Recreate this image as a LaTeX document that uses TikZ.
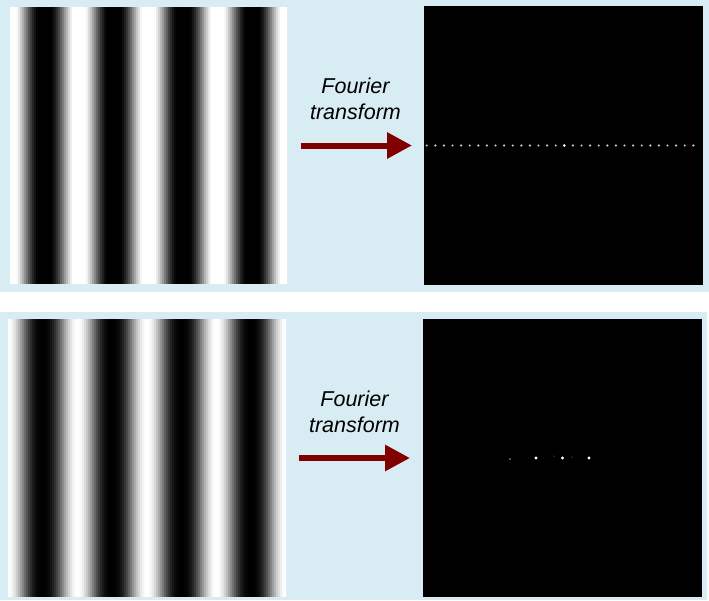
\documentclass[tikz,border=0pt]{standalone}
\usepackage{fontspec}
\setmainfont{Liberation Sans}
\usetikzlibrary{positioning,arrows.meta}
\definecolor{panelC}{RGB}{216,236,243}
\definecolor{arrowC}{RGB}{128,0,0}
\definecolor{dotC}{RGB}{205,205,205}
\tikzset{
	stripebox/.style={minimum width=277pt, minimum height=277pt, inner sep=0pt,
		outer sep=0pt},
	spectrum/.style={minimum width=279pt, minimum height=279pt, inner sep=0pt,
		outer sep=0pt, fill=black},
	flow/.style={-{Triangle[length=25pt,width=25pt]}, line width=6pt, arrowC},
	ftlabel/.style={align=center, inner sep=0pt,
		font=\fontsize{21.5}{26}\selectfont\itshape},
	peak/.style={fill=white},
}

\begin{document}
\begin{tikzpicture}[x=1pt, y=-1pt]
	\useasboundingbox (0,0) rectangle (709,600);
	
	% ================= Panels =================
	\fill[panelC] (0,0) rectangle (709,292);
	\fill[panelC] (0,312) rectangle (707,600);
	
	% ================= Top row: clipped stripes =================
	\node[stripebox] (imgA) at (148.5,145.5) {};
	\begin{scope}
		\clip (imgA.south west) rectangle (imgA.north east);
		\begin{scope}[shift={(imgA.north west)}]
			\foreach \i in {0,...,138}{
				\pgfmathsetmacro\shade{100-100*min(1,max(0,0.5+0.6*cos(5.1986*(2*\i+1))))^1.2}
				\fill[black!\shade] (2*\i,0) rectangle ++(2.3,277);
			}
		\end{scope}
	\end{scope}
	
	\node[spectrum] (ftA) at (563.5,145.5) {};
	\begin{scope}[shift={(ftA.center)}]
		\foreach \k in {-16,...,15}
		\fill[dotC] (0.8+8.6*\k,0) circle[radius=1.2];
		\fill[peak] (0.8,0) circle[radius=1.4];
	\end{scope}
	
	\draw[flow, shorten <=14pt, shorten >=12pt] (imgA.east) --
	coordinate[pos=0.5] (midA) (ftA.west);
	\node[ftlabel, above=26pt of midA] {Fourier\\transform};
	
	% ================= Bottom row: pure sine stripes =================
	\node[stripebox, minimum width=278pt, minimum height=278pt] (imgB) at (147,458) {};
	\begin{scope}
		\clip (imgB.south west) rectangle (imgB.north east);
		\begin{scope}[shift={(imgB.north west)}]
			\foreach \i in {0,...,139}{
				\pgfmathsetmacro\shade{100-100*((1+cos(5.1799*(2*\i+1)))/2)^1.3}
				\fill[black!\shade] (2*\i,0) rectangle ++(2.3,278);
			}
		\end{scope}
	\end{scope}
	
	\node[spectrum, minimum height=278pt] (ftB) at (562.5,458) {};
	\begin{scope}[shift={(ftB.center)}]
		\foreach \k in {-26.5,0,26.5}
		\fill[peak] (\k,0) circle[radius=1.6];
		\fill[gray!70] (-52.5,1) circle[radius=0.8];
		\fill[gray!60] (-8.5,-2) circle[radius=0.5];
		\fill[gray!60] (9.5,-1) circle[radius=0.5];
	\end{scope}
	
	\draw[flow, shorten <=13pt, shorten >=13pt] (imgB.east) --
	coordinate[pos=0.5] (midB) (ftB.west);
	\node[ftlabel, above=25pt of midB] {Fourier\\transform};
	
\end{tikzpicture}
\end{document}
